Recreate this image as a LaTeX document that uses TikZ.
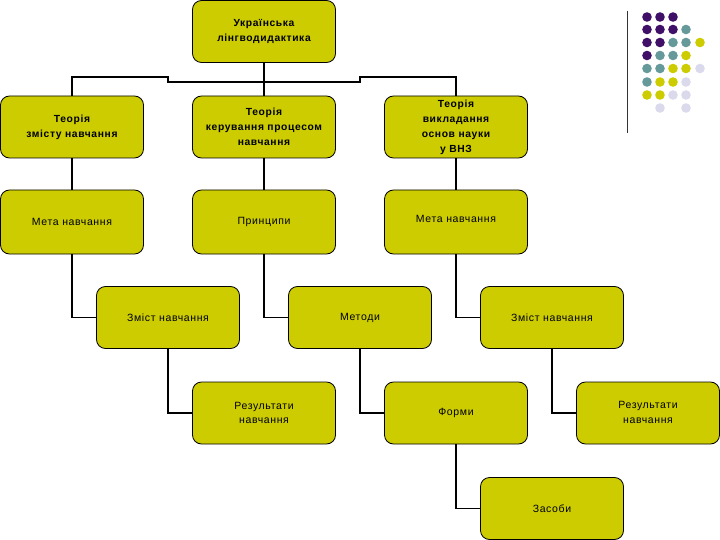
\documentclass[tikz,border=0pt]{standalone}
\usepackage{fontspec}
\setmainfont{Liberation Sans}[LetterSpace=6]
\definecolor{boxfill}{RGB}{204,204,0}
\definecolor{dotP}{RGB}{64,16,104}
\definecolor{dotT}{RGB}{102,153,153}
\definecolor{dotY}{RGB}{204,204,0}
\definecolor{dotL}{RGB}{218,218,236}
\tikzset{
  box/.style={draw=black, line width=0.8pt, fill=boxfill, rounded corners=9pt,
    minimum width=143pt, minimum height=62pt, inner sep=2pt, align=center,
    font=\fontsize{10.5}{14.5}\selectfont},
  boldbox/.style={box, font=\fontsize{10.3}{15}\selectfont\bfseries},
  conn/.style={line width=1.6pt, black}
}
\begin{document}
\begin{tikzpicture}[x=1pt,y=-1pt]
\useasboundingbox (0,0) rectangle (720,540);
% nodes
\node[boldbox, minimum height=62pt] (top) at (264,31.5) {Українська\\лінгводидактика};
\node[boldbox] (t1) at (72,127) {Теорія\\змісту навчання};
\node[boldbox] (t2) at (264,127) {Теорія\\керування процесом\\навчання};
\node[boldbox] (t3) at (456,127) {Теорія\\викладання\\основ науки\\у ВНЗ};
\node[box, minimum height=64pt] (m1) at (72,222) {Мета навчання};
\node[box, minimum height=64pt] (m2) at (264,222) {Принципи};
\node[box, minimum height=64pt] (m3) at (456,222) {\raisebox{6pt}{Мета навчання}};
\node[box] (z1) at (168,317.5) {Зміст навчання};
\node[box] (z2) at (360,317.5) {Методи};
\node[box] (z3) at (552,317.5) {Зміст навчання};
\node[box] (r1) at (264,413) {Результати\\навчання};
\node[box] (f2) at (456,413) {Форми};
\node[box] (r3) at (648,413) {\raisebox{7pt}{\begin{tabular}{@{}c@{}}Результати\\навчання\end{tabular}}};
\node[box] (s2) at (552,508.5) {Засоби};
% connectors
\draw[conn] (top.south) -- (t2.north);
\draw[conn] (t1.north) |- (168,77) |- (360,82) -- (360,77) -| (t3.north);
\draw[conn] (t1.south) -- (m1.north);
\draw[conn] (t2.south) -- (m2.north);
\draw[conn] (t3.south) -- (m3.north);
\draw[conn] (m1.south) |- (z1.west);
\draw[conn] (m2.south) |- (z2.west);
\draw[conn] (m3.south) |- (z3.west);
\draw[conn] (z1.south) |- (r1.west);
\draw[conn] (z2.south) |- (f2.west);
\draw[conn] (z3.south) |- (r3.west);
\draw[conn] (f2.south) |- (s2.west);
% decoration
\draw[line width=1pt, black!80] (627,11) -- (627,133);
\foreach \x/\y/\c in {
 647/17/dotP, 660/17/dotP, 673/17/dotP,
 647/29.5/dotP, 660/29.5/dotP, 673/29.5/dotP, 686/29.5/dotT,
 647/42.5/dotP, 660/42.5/dotP, 673/42.5/dotT, 686/42.5/dotT, 700/42.5/dotY,
 647/55.5/dotP, 660/55.5/dotT, 673/55.5/dotT, 686/55.5/dotY,
 647/68.5/dotT, 660/68.5/dotT, 673/68.5/dotY, 686/68.5/dotY, 700/68.5/dotL,
 647/82/dotT, 660/82/dotY, 673/82/dotY, 686/82/dotL,
 647/95/dotY, 660/95/dotY, 673/95/dotL, 686/95/dotL,
 660/108/dotL, 686/108/dotL}{
  \fill[\c] (\x,\y) circle[radius=4.8pt];
}
\end{tikzpicture}
\end{document}
